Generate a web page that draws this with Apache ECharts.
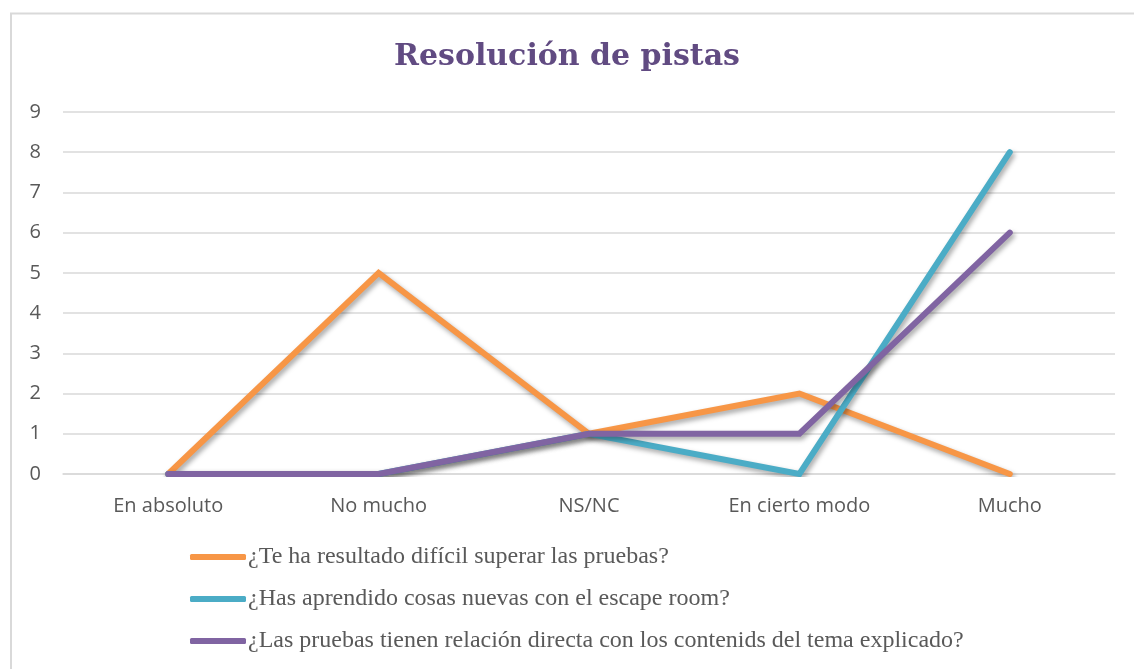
<!DOCTYPE html>
<html>
<head>
<meta charset="utf-8">
<script src="https://cdn.jsdelivr.net/npm/echarts@6/dist/echarts.min.js"></script>
<style>
  html, body { margin: 0; padding: 0; background: #fff; }
  #main { width: 1134px; height: 669px; }
</style>
</head>
<body>
<div id="main"></div>
<script>
// datos
var categorias = ['En absoluto', 'No mucho', 'NS/NC', 'En cierto modo', 'Mucho'];
var nombres = [
    '¿Te ha resultado difícil superar las pruebas?',
    '¿Has aprendido cosas nuevas con el escape room?',
    '¿Las pruebas tienen relación directa con los contenids del tema explicado?'
];
var dificil = [0, 5, 1, 2, 0];
var aprendido = [0, 0, 1, 0, 8];
var relacion = [0, 0, 1, 1, 6];
var colores = ['#F79646', '#4BACC6', '#8064A2'];

function serie(nombre, datos, color) {
    return {
        name: nombre,
        type: 'line',
        data: datos,
        symbol: 'none',
        color: color,
        lineStyle: {
            width: 6,
            color: color,
            cap: 'round',
            join: 'miter',
            shadowColor: 'rgba(0,0,0,0.35)',
            shadowBlur: 5,
            shadowOffsetX: 2,
            shadowOffsetY: 3
        }
    };
}

var myChart = echarts.init(document.getElementById('main'));
myChart.setOption({
    animation: false,
    backgroundColor: '#ffffff',
    title: {
        text: 'Resolución de pistas',
        left: 'center',
        top: 37,
        textStyle: {
            color: '#614b82',
            fontFamily: 'DejaVu Serif',
            fontWeight: 'bold',
            fontSize: 30
        }
    },
    graphic: [{
        type: 'polyline',
        shape: { points: [[11, 669], [11, 13.5], [1134, 13.5]] },
        style: { stroke: '#d9d9d9', lineWidth: 2, fill: null }
    }],
    legend: {
        orient: 'vertical',
        left: 185,
        top: 540,
        itemGap: 18,
        itemWidth: 56,
        itemHeight: 6,
        icon: 'roundRect',
        textStyle: {
            color: '#595959',
            fontFamily: 'Liberation Serif',
            fontSize: 24,
            padding: [0, 0, 0, -3]
        },
        data: nombres
    },
    grid: {
        left: 63,
        right: 19,
        top: 112,
        bottom: 195
    },
    xAxis: {
        type: 'category',
        data: categorias,
        boundaryGap: true,
        axisLine: { lineStyle: { color: '#d9d9d9', width: 1.5 } },
        axisTick: { show: false },
        axisLabel: {
            color: '#595959',
            fontFamily: 'Open Sans',
            fontSize: 20,
            margin: 22
        }
    },
    yAxis: {
        type: 'value',
        min: 0,
        max: 9,
        interval: 1,
        axisLine: { show: false },
        axisTick: { show: false },
        axisLabel: {
            color: '#595959',
            fontFamily: 'Open Sans',
            fontSize: 20,
            margin: 22
        },
        splitLine: { lineStyle: { color: '#d9d9d9', width: 1.5 } }
    },
    series: [
        serie(nombres[0], dificil, colores[0]),
        serie(nombres[1], aprendido, colores[1]),
        serie(nombres[2], relacion, colores[2])
    ]
});
</script>
</body>
</html>
